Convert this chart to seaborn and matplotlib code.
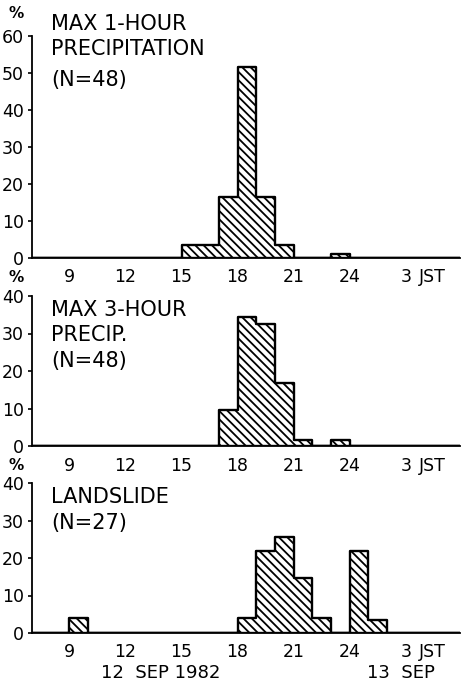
import numpy as np
import pandas as pd
import matplotlib
matplotlib.use("Agg")
import matplotlib.pyplot as plt
import seaborn as sns

# datos (porcentaje por hora, inicio de cada intervalo)
hours_1h = [15, 16, 17, 18, 19, 20, 23]
pct_1h = [3.5, 3.5, 16.4, 51.6, 16.4, 3.5, 1.2]

hours_3h = [17, 18, 19, 20, 21, 23]
pct_3h = [9.7, 34.5, 32.5, 16.7, 1.5, 1.5]

hours_ls = [9, 18, 19, 20, 21, 22, 24, 25]
pct_ls = [4.0, 4.0, 22.0, 25.5, 14.7, 4.0, 22.0, 3.6]

tick_pos = [9, 12, 15, 18, 21, 24, 27, 28.4]
tick_lab = ["9", "12", "15", "18", "21", "24", "3", "JST"]

titles = [
    ["MAX 1-HOUR", "PRECIPITATION", "(N=48)"],
    ["MAX 3-HOUR", "PRECIP.", "(N=48)"],
    ["LANDSLIDE", "(N=27)"],
]

sns.set_style("ticks")
plt.rcParams["font.family"] = ["DejaVu Sans"]
plt.rcParams["hatch.linewidth"] = 1.3
plt.rcParams["text.color"] = "black"
plt.rcParams["xtick.color"] = "black"
plt.rcParams["ytick.color"] = "black"
plt.rcParams["axes.edgecolor"] = "black"

W, H = 462, 683
fig = plt.figure(figsize=(W / 100, H / 100), dpi=100)


def px_axes(top, bottom, left=32, right=460):
    return fig.add_axes([left / W, 1 - bottom / H, (right - left) / W, (bottom - top) / H])


def draw_panel(ax, hours, pct, ymax, pad):
    df = pd.DataFrame({"hour": np.array(hours) + 0.5, "pct": pct})
    sns.histplot(
        data=df, x="hour", weights="pct", binwidth=1, binrange=(7, 30),
        element="step", fill=True, ax=ax,
        facecolor="white", edgecolor="black", hatch="\\\\\\\\",
        linewidth=1.7, alpha=1,
    )
    ax.set_xlim(7, 29.9)
    ax.set_ylim(0, ymax)
    ax.set_xlabel("")
    ax.set_ylabel("")
    ax.set_yticks(np.arange(0, ymax + 1, 10))
    ax.set_xticks(tick_pos)
    ax.set_xticklabels(tick_lab)
    ax.tick_params(axis="x", length=0, pad=pad, labelsize=12.5)
    ax.tick_params(axis="y", length=3, width=1.2, pad=3, labelsize=12.5)
    sns.despine(ax=ax)
    for s in ["left", "bottom"]:
        ax.spines[s].set_linewidth(1.3)
    ax.patch.set_alpha(0)


ax1 = px_axes(36, 258)
ax2 = px_axes(296, 446)
ax3 = px_axes(483, 633)

draw_panel(ax1, hours_1h, pct_1h, 60, 7)
draw_panel(ax2, hours_3h, pct_3h, 40, 8)
draw_panel(ax3, hours_ls, pct_ls, 40, 7)


def ftext(x, y, s, **kw):
    fig.text(x / W, 1 - y / H, s, **kw)


# titulos de cada panel
baselines = [[30, 55, 86], [316, 341, 367], [503, 529]]
for lines, bases in zip(titles, baselines):
    for s, b in zip(lines, bases):
        ftext(51, b, s, fontsize=15, va="baseline", ha="left")

# simbolos de porcentaje
for yy in [13, 278, 466]:
    ftext(16, yy, "%", fontsize=11, ha="center", va="center", fontweight="bold")

ftext(161, 678, "12  SEP 1982", fontsize=13, ha="center", va="baseline")
ftext(401, 678, "13  SEP", fontsize=13, ha="center", va="baseline")

plt.savefig("out.png", dpi=100)
